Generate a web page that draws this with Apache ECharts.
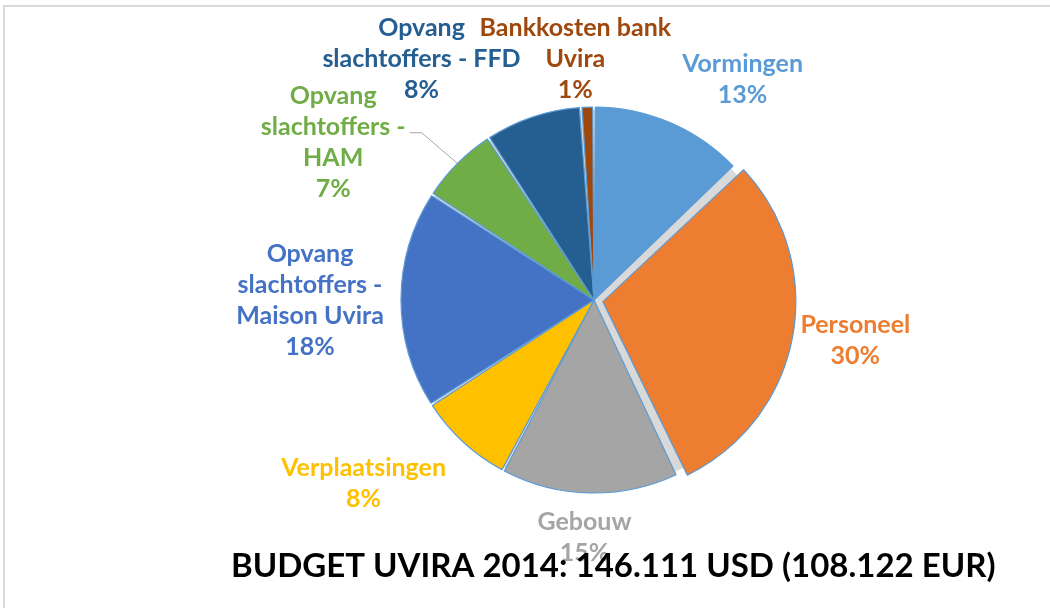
<!DOCTYPE html>
<html>
<head>
<meta charset="utf-8">
<script src="https://cdn.jsdelivr.net/npm/echarts@6/dist/echarts.min.js"></script>
<style>
  *{ margin:0; padding:0; }
  body{ width:1050px; height:608px; background:#fff; overflow:hidden; position:relative; }
  #frame{ position:absolute; left:3px; top:5px; width:1100px; height:700px; border:2px solid #d9d9d9; }
  #chart{ position:absolute; left:0; top:0; width:1050px; height:608px; }
</style>
</head>
<body>
<div id="frame"></div>
<div id="chart"></div>
<script>
// posten van het budget, met de klok mee vanaf 12 uur
var categories = ['Vormingen', 'Personeel', 'Gebouw', 'Verplaatsingen',
  'Opvang slachtoffers - Maison Uvira', 'Opvang slachtoffers - HAM',
  'Opvang slachtoffers - FFD', 'Bankkosten bank Uvira'];
// labeltekst zoals in de grafiek afgebroken
var labelNames = ['Vormingen', 'Personeel', 'Gebouw', 'Verplaatsingen',
  'Opvang\nslachtoffers -\nMaison Uvira', 'Opvang\nslachtoffers -\nHAM',
  'Opvang\nslachtoffers - FFD', 'Bankkosten bank\nUvira'];
var shares = [12.9, 30.0, 14.9, 8.1, 18.3, 6.6, 8.1, 1.1];
var colors = ['#5b9bd5', '#ed7d31', '#a5a5a5', '#ffc000', '#4472c4', '#70ad47', '#255e91', '#9e480e'];
var titleText = 'BUDGET UVIRA 2014: 146.111 USD (108.122 EUR)';

var CX = 594, CY = 300, R = 193;
var LABEL_DIST = 250; // afstand labelmidden tot middelpunt, voor verschuiving
// handmatige verschuiving van de labels [dx, dy], zoals in het origineel versleept
var labelNudge = [[50, 9], [17, -3], [-4, -13], [-61, 0], [-34, 1], [-84, 19], [-93, -4], [-10, 9]];

var chart = echarts.init(document.getElementById('chart'));

var total = shares.reduce(function (a, b) { return a + b; }, 0);
var midAngles = [];
var acc = 0;
shares.forEach(function (v) {
  midAngles.push((acc + v / 2) / total * 2 * Math.PI);
  acc += v;
});

var pieData = categories.map(function (c, i) {
  var item = {
    name: c,
    value: shares[i],
    itemStyle: { color: colors[i] },
    label: { color: colors[i] },
    labelLine: { lineStyle: { color: i === 5 ? '#a6a6a6' : 'rgba(0,0,0,0)' } }
  };
  if (i === 1) {
    // uitgetrokken punt: label volgt de eigen select-positie, dus via de lijnlengte
    item.selected = true;
    item.labelLine.length2 = 38;
  }
  return item;
});

chart.setOption({
  animation: false,
  title: {
    text: titleText,
    left: 226,
    top: 545,
    textStyle: { fontFamily: 'Lato', fontWeight: 'bold', fontSize: 33, color: '#000' }
  },
  series: [
    {
      // grijze achtergrond die in de spleten zichtbaar is
      type: 'pie',
      silent: true,
      center: [CX, CY],
      radius: [0, R - 3],
      z: 1,
      label: { show: false },
      labelLine: { show: false },
      itemStyle: { color: '#d9d9d9' },
      data: [{ value: 1, name: '' }]
    },
    {
      type: 'pie',
      center: [CX, CY],
      radius: [0, R],
      z: 2,
      startAngle: 90,
      clockwise: true,
      padAngle: 0.8,
      selectedMode: 'single',
      selectedOffset: 9,
      itemStyle: { borderColor: '#5b9bd5', borderWidth: 1.2 },
      emphasis: { disabled: true },
      label: {
        show: true,
        position: 'outside',
        fontFamily: 'Lato',
        fontWeight: 'bold',
        fontSize: 25,
        lineHeight: 31,
        align: 'center',
        formatter: function (p) {
          return labelNames[p.dataIndex] + '\n' + Math.round(p.percent) + '%';
        }
      },
      labelLine: { show: true, length: 20, length2: 10, lineStyle: { width: 1 } },
      labelLayout: function (p) {
        var i = p.dataIndex;
        var a = midAngles[i];
        var r = p.labelRect;
        var x = CX + LABEL_DIST * Math.sin(a) + labelNudge[i][0];
        var y = CY - LABEL_DIST * Math.cos(a) + labelNudge[i][1];
        var res = { x: x, y: y, align: 'center', verticalAlign: 'middle', hideOverlap: false, moveOverlap: false };
        if (i === 5) {
          var edge = [CX + R * Math.sin(a), CY - R * Math.cos(a)];
          var yl = y - 0.5 * 31 + 6;
          var xr = x + r.width / 2;
          res.labelLinePoints = [edge, [xr + 16, yl], [xr + 4, yl]];
        }
        return res;
      },
      data: pieData
    }
  ]
});
</script>
</body>
</html>
